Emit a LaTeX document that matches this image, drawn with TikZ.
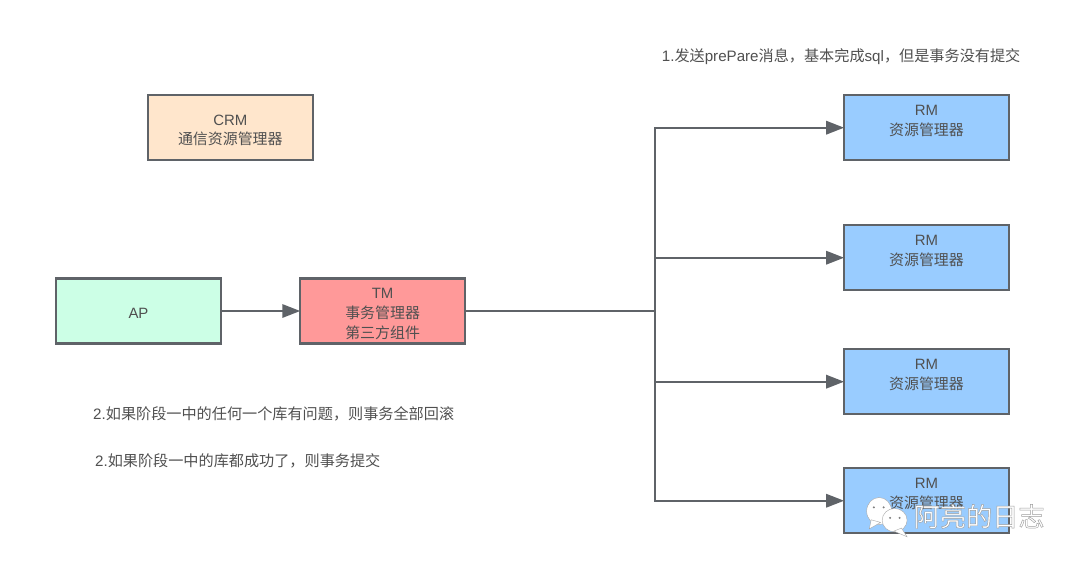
\documentclass[tikz,border=0pt]{standalone}
\usepackage{fontspec}
\setmainfont{Noto Sans CJK SC}
\newfontfamily\lat{Liberation Sans}
\newcommand{\headline}[1]{\rule{0pt}{12pt}{\lat #1}}
\newcommand{\rmlabel}{{\lat RM}\\资源管理器\rule[-11.5pt]{0pt}{0pt}}
\newcommand{\zhcomma}{^^^^ff0c}
\usepackage{tikz}
\usetikzlibrary{arrows.meta, positioning}
\definecolor{edge}{HTML}{5F6368}
\definecolor{ink}{HTML}{505050}
\definecolor{crmfill}{HTML}{FFE6CC}
\definecolor{apfill}{HTML}{CCFFE6}
\definecolor{tmfill}{HTML}{FF9999}
\definecolor{rmfill}{HTML}{99CCFF}

\begin{document}
\begin{tikzpicture}[
    node distance=1.5cm and 2.07cm,
    box/.style={rectangle, draw=edge, line width=1.7pt, outer sep=0pt,
                minimum width=4.36cm, minimum height=1.72cm, inner sep=0pt,
                text=ink, font=\fontsize{11.25}{14.8}\selectfont, align=center},
    note/.style={text=ink, inner sep=0pt, font=\fontsize{11.4}{13}\selectfont},
    arr/.style={-{Triangle[length=13.5pt, width=10pt]}, draw=edge, line width=1.7pt},
    bubble/.style={fill=white, draw=gray!70, line width=0.3pt}
]
  \useasboundingbox (0,0) rectangle (28.575,14.923);
  \fill[white] (0,0) rectangle (28.575,14.923);
  \node[box, fill=apfill] at (3.664,6.694) (ap) {\headline{AP}};
  \node[box, fill=tmfill, right=2.1cm of ap] (tm) {\headline{TM}\\事务管理器\\第三方组件};
  \node[box, fill=crmfill, above=3.13cm of ap, xshift=2.43cm] (crm) {\headline{CRM}\\通信资源管理器};
  \coordinate[right=5.02cm of tm] (bus);
  \node[box, fill=rmfill, above right=3.13cm and 10.03cm of tm] (rm1) {\rmlabel};
  \node[box, fill=rmfill, below=1.72cm of rm1] (rm2) {\rmlabel};
  \node[box, fill=rmfill, below=1.56cm of rm2] (rm3) {\rmlabel};
  \node[box, fill=rmfill, below=1.43cm of rm3] (rm4) {\rmlabel};
  \draw[arr] (ap)--(tm);
  \draw[arr] (tm)--(bus)|-(rm1);
  \draw[arr] (bus)|-(rm2);
  \draw[arr] (bus)|-(rm3);
  \draw[arr] (bus)|-(rm4);
  \node[note, above=0.81cm of rm1, xshift=-2.26cm] (step1) {{\lat 1.}发送{\lat prePare}消息\zhcomma 基本完成{\lat sql}\zhcomma 但是事务没有提交};
  \node[note, anchor=west] at (2.46,3.98) (step2) {{\lat 2.}如果阶段一中的任何一个库有问题\zhcomma 则事务全部回滚};
  \node[note, anchor=west] at (2.51,2.72) (step3) {{\lat 2.}如果阶段一中的库都成功了\zhcomma 则事务提交};
  % watermark
  \fill[bubble] (23.26,1.40) ellipse (0.33cm and 0.36cm);
  \fill[bubble] (23.05,1.17)--(23.0,0.93)--(23.3,1.1)--cycle;
  \draw[bubble] (23.67,1.16) ellipse (0.33cm and 0.31cm);
  \fill[bubble] (23.85,0.95)--(24.0,0.72)--(23.65,0.87)--cycle;
  \fill[gray] (23.55,1.22) circle (0.03cm) (23.8,1.22) circle (0.03cm)
              (23.12,1.5) circle (0.03cm) (23.38,1.5) circle (0.03cm);
  \node[anchor=west, inner sep=0pt, text=white, font=\fontsize{19.7}{22}\selectfont] at (24.17,1.26) (mark)
    {\special{pdf:code q 2 Tr 0.35 w 0.62 0.62 0.62 RG}阿亮的日志\special{pdf:code Q}};
\end{tikzpicture}
\end{document}
